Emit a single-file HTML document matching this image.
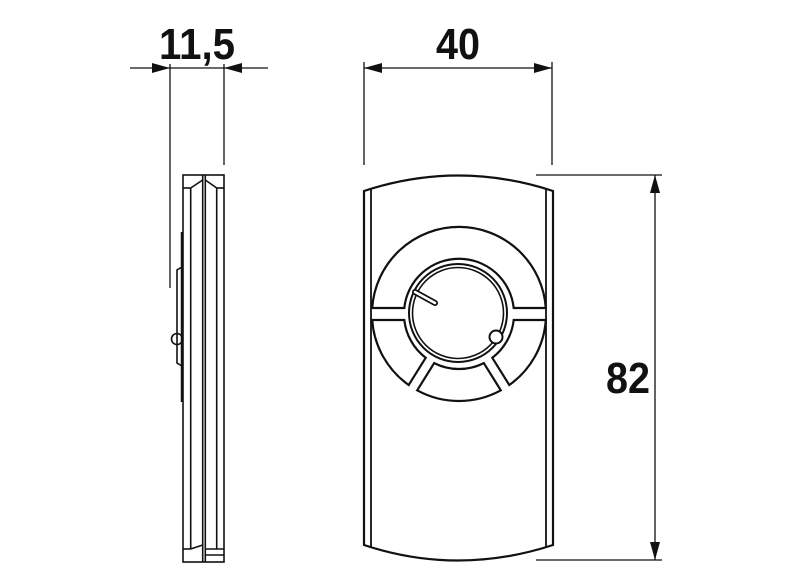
<!DOCTYPE html>
<html><head><style>html,body{margin:0;padding:0;background:#fff}svg{display:block}
text{font-family:"Liberation Sans Narrow","Liberation Sans",sans-serif;font-weight:bold;font-size:44px;fill:#111}</style></head>
<body>
<svg width="800" height="584" viewBox="0 0 800 584" xmlns="http://www.w3.org/2000/svg">
<g stroke="#111" fill="none">
<line x1="170" y1="64" x2="170" y2="288" stroke-width="1.3"/>
<line x1="224" y1="64" x2="224" y2="165" stroke-width="1.3"/>
<line x1="130" y1="68" x2="268" y2="68" stroke-width="1.3"/>
<line x1="364" y1="62" x2="364" y2="165" stroke-width="1.3"/>
<line x1="552" y1="62" x2="552" y2="165" stroke-width="1.3"/>
<line x1="364" y1="68" x2="552" y2="68" stroke-width="1.3"/>
<line x1="536" y1="175" x2="662" y2="175" stroke-width="1.3"/>
<line x1="536" y1="560" x2="662" y2="560" stroke-width="1.3"/>
<line x1="655" y1="175" x2="655" y2="560" stroke-width="1.3"/>
</g>
<g fill="#111">
<polygon points="170,68 152,63 152,73"/>
<polygon points="224,68 242,63 242,73"/>
<polygon points="364,68 382,63 382,73"/>
<polygon points="552,68 534,63 534,73"/>
<polygon points="655,175 650,193 660,193"/>
<polygon points="655,560 650,542 660,542"/>
</g>
<text x="197" y="59" text-anchor="middle" textLength="76" lengthAdjust="spacingAndGlyphs">11,5</text>
<text x="458" y="59" text-anchor="middle" textLength="44" lengthAdjust="spacingAndGlyphs">40</text>
<text x="628" y="393" text-anchor="middle" textLength="44" lengthAdjust="spacingAndGlyphs">82</text>

<g stroke="#111" fill="none" stroke-width="1.6">
<rect x="183" y="175" width="41" height="387"/>
<line x1="190.7" y1="188" x2="190.7" y2="549"/>
<line x1="202.7" y1="175" x2="202.7" y2="562"/>
<line x1="205.3" y1="175" x2="205.3" y2="562"/>
<line x1="216.7" y1="188" x2="216.7" y2="549"/>
<line x1="183" y1="188" x2="190.7" y2="188"/>
<line x1="190.7" y1="188" x2="202.7" y2="180"/>
<line x1="216.7" y1="188" x2="224" y2="188"/>
<line x1="216.7" y1="188" x2="205.3" y2="180"/>
<line x1="183" y1="549" x2="190.7" y2="549"/>
<line x1="190.7" y1="549" x2="202.7" y2="545"/>
<line x1="205.3" y1="549" x2="224" y2="549"/>
<line x1="205.3" y1="555" x2="224" y2="555"/>
<line x1="182" y1="232" x2="182" y2="402" stroke-width="2.5"/>
<path d="M182,267 L177,270 L177,363 L182,366"/>
<circle cx="177" cy="339" r="5.5"/>
</g>

<g stroke="#111" fill="none" stroke-width="2.2">
<path d="M364,191 Q458,160 553,191 L553,545 Q458,576 364,545 Z"/>
<line x1="371" y1="188" x2="371" y2="548" stroke-width="1.8"/>
<line x1="546" y1="188" x2="546" y2="548" stroke-width="1.8"/>
<path d="M372.2,308 A87 87 0 0 1 545.8,308 L513.7,308 A55 55 0 0 0 404.3,308 Z"/>
<path d="M513.7,320 L545.8,320 A87 87 0 0 1 509.3,385 L492.3,357.8 A55 55 0 0 0 513.7,320 Z"/>
<path d="M500.8,390.3 A87 87 0 0 1 417.2,390.3 L434.2,363.1 A55 55 0 0 0 483.8,363.1 Z"/>
<path d="M408.7,385 A87 87 0 0 1 372.2,320 L404.3,320 A55 55 0 0 0 425.7,357.8 Z"/>
<circle cx="458" cy="313" r="49" stroke-width="2"/>
<circle cx="458" cy="313" r="45.5" stroke-width="1.6"/>
<line x1="415" y1="292" x2="435" y2="303" stroke-width="6" stroke-linecap="round"/>
<line x1="415" y1="292" x2="435" y2="303" stroke-width="2.5" stroke="#fff" stroke-linecap="round"/>
<circle cx="496" cy="337" r="6.5" fill="#fff" stroke-width="2"/>
</g>
</svg>
</body></html>
